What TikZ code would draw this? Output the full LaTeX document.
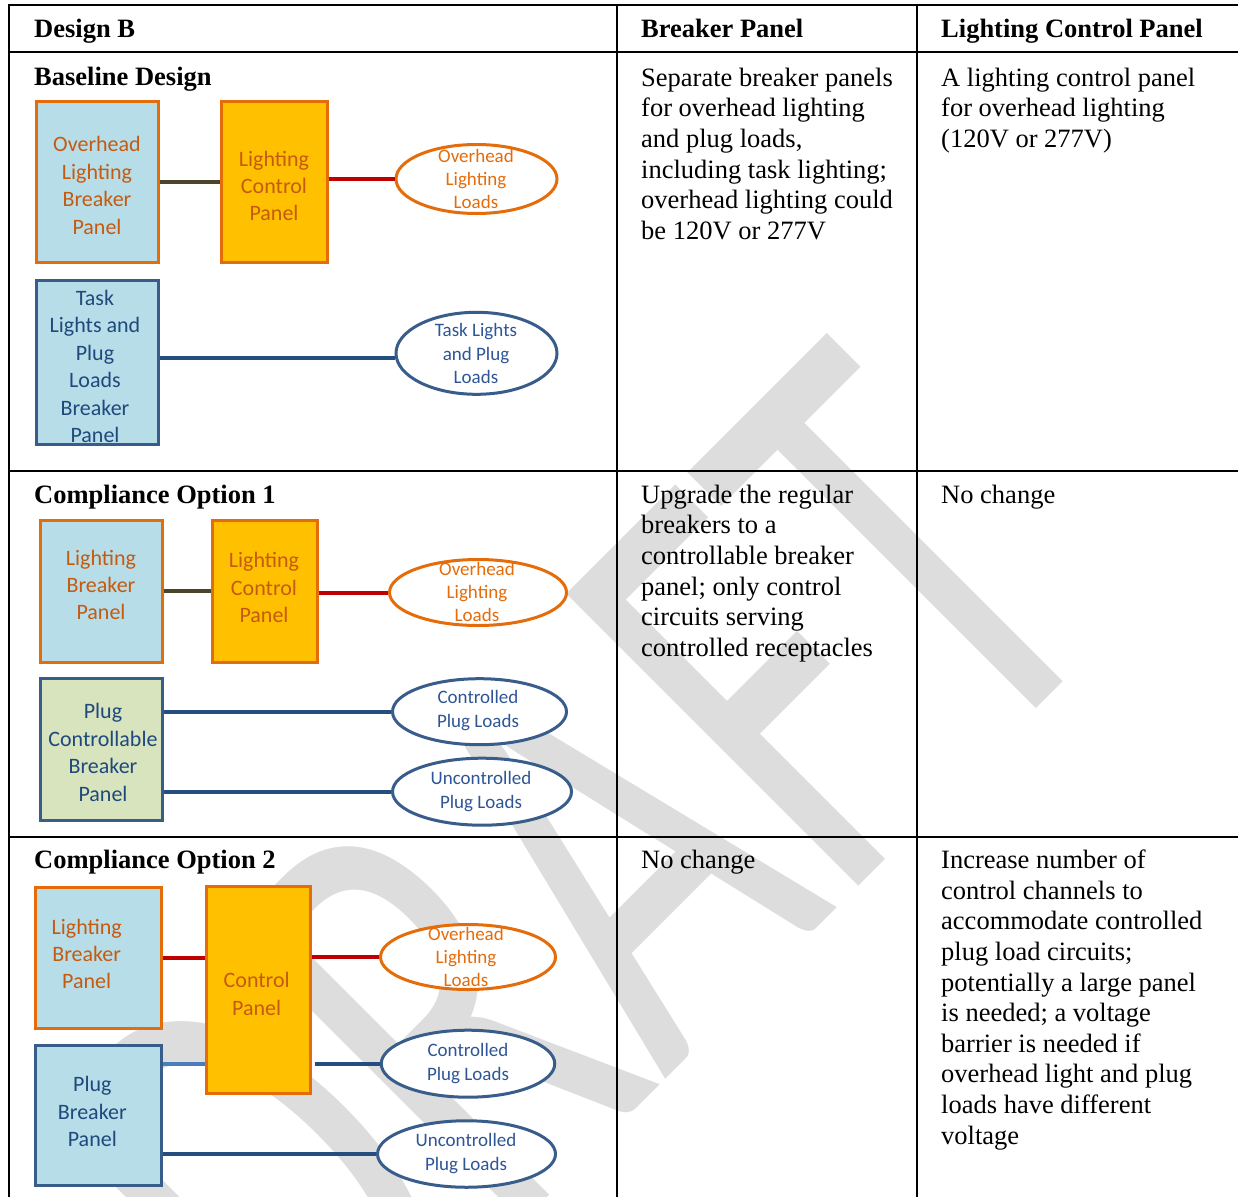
\documentclass[tikz,border=0pt]{standalone}
\usepackage{fontspec}
\setmainfont{Liberation Serif}
\newfontfamily\calibri{Carlito}
\usetikzlibrary{shapes.geometric}

\definecolor{skyfill}{HTML}{B7DEE8}
\definecolor{leaffill}{HTML}{D7E4BD}
\definecolor{goldfill}{HTML}{FFC000}
\definecolor{orline}{HTML}{E46C0A}
\definecolor{blline}{HTML}{385D8A}
\definecolor{ortext}{HTML}{C55A11}
\definecolor{loadorange}{HTML}{E46C0A}
\definecolor{bltext}{HTML}{1F497D}
\definecolor{loadblue}{HTML}{2F5597}
\definecolor{wirered}{HTML}{C00000}
\definecolor{wireolive}{HTML}{4A452A}
\definecolor{wireblue}{HTML}{254E80}
\definecolor{wirelight}{HTML}{4A7EBB}
\definecolor{wmgray}{RGB}{221,221,221}

\tikzset{
  wm/.style={font=\calibri\fontsize{644}{700}\selectfont, text=wmgray, rotate=45, inner sep=0pt},
  tabrule/.style={line width=2pt, black},
  cell/.style={font=\fontsize{26.5}{30.6}\selectfont, align=left, anchor=north west, inner sep=0pt},
  head/.style={cell, font=\bfseries\fontsize{26.5}{30.6}\selectfont},
  panel/.style={draw, line width=3pt, inner sep=0pt},
  orpanel/.style={panel, draw=orline},
  blpanel/.style={panel, draw=blline},
  load/.style={ellipse, draw, line width=3pt, fill=white, inner sep=0pt},
  orload/.style={load, draw=orline},
  blload/.style={load, draw=blline},
  boxtxt/.style={font=\calibri\fontsize{22}{27.4}\selectfont, align=center, inner sep=0pt},
  loadtxt/.style={font=\calibri\fontsize{19}{23.4}\selectfont, align=center, inner sep=0pt},
  wire/.style={line width=4pt},
}

\begin{document}
\begin{tikzpicture}[x=1pt,y=-1pt]
\useasboundingbox (0,0) rectangle (1238,1196);
\fill[white] (0,0) rectangle (1238,1196);

% watermark
\node[wm] (wmark) at (574,879) {\scalebox{0.66}[1]{DRAFT}};

% table rules
\draw[tabrule] (9,5) -- (1240,5);
\draw[tabrule] (9,52) -- (1240,52);
\draw[tabrule] (9,470.5) -- (1240,470.5);
\draw[tabrule] (9,836.5) -- (1240,836.5);
\draw[tabrule] (9,4) -- (9,1198);
\draw[tabrule] (617,4) -- (617,1198);
\draw[tabrule] (917,4) -- (917,1198);

% header row
\node[head] (h1) at (34,16.2) {\strut Design B};
\node[head] (h2) at (641,16.2) {\strut Breaker Panel};
\node[head] (h3) at (941,16.2) {\strut Lighting Control Panel};

% row texts
\node[head] (r1a) at (34,63.7) {\strut Baseline Design};
\node[cell] (r1b) at (641,64.6) {\strut Separate breaker panels\\for overhead lighting\\and plug loads,\\including task lighting;\\overhead lighting could\\be 120V or 277V};
\node[cell] (r1c) at (941,64.6) {\strut A lighting control panel\\for overhead lighting\\(120V or 277V)};

\node[head] (r2a) at (34,481.6) {\strut Compliance Option 1};
\node[cell] (r2b) at (641,481.6) {\strut Upgrade the regular\\breakers to a\\controllable breaker\\panel; only control\\circuits serving\\controlled receptacles};
\node[cell] (r2c) at (941,481.6) {\strut No change};

\node[head] (r3a) at (34,847.2) {\strut Compliance Option 2};
\node[cell] (r3b) at (641,847) {\strut No change};
\node[cell] (r3c) at (941,847) {\strut Increase number of\\control channels to\\accommodate controlled\\plug load circuits;\\potentially a large panel\\is needed; a voltage\\barrier is needed if\\overhead light and plug\\loads have different\\voltage};

% ---- baseline design ----
\node[orpanel, fill=skyfill, minimum width=122pt, minimum height=160pt] (A) at (97,182) {};
\node[orpanel, fill=goldfill, minimum width=106pt, minimum height=160pt] (B) at (274,182) {};
\node[blpanel, fill=skyfill, minimum width=122pt, minimum height=164pt] (C) at (97,362.8) {};
\node[orload, minimum width=161pt, minimum height=69pt] (e1) at (476.5,179) {};
\node[blload, minimum width=161pt, minimum height=82pt] (e2) at (476.5,353.3) {};
\coordinate (e2in) at ([yshift=-4.7pt]e2.west);

\draw[wire, wireolive] (A.east) -- (B.west);
\draw[wire, wirered] (B.east |- e1.west) -- (e1.west);
\draw[wire, wireblue] (C.east |- e2in) -- (e2in);

\node[boxtxt, text=ortext] (tA) at (97,185.5) {Overhead\\Lighting\\Breaker\\Panel};
\node[boxtxt, text=ortext] (tB) at (274,186) {Lighting\\Control\\Panel};
\node[boxtxt, text=bltext] (tC) at (95,366.5) {Task\\Lights and\\Plug\\Loads\\Breaker\\Panel};
\node[loadtxt, text=loadorange] (t1) at (476,179) {Overhead\\Lighting\\Loads};
\node[loadtxt, text=loadblue] (t2) at (476,353.7) {Task Lights\\and Plug\\Loads};

% ---- compliance option 1 ----
\node[orpanel, fill=skyfill, minimum width=122pt, minimum height=142pt] (D) at (101,591) {};
\node[orpanel, fill=goldfill, minimum width=105pt, minimum height=142pt] (E) at (264.5,591) {};
\node[blpanel, fill=leaffill, minimum width=122pt, minimum height=142pt] (F) at (101,749.5) {};
\node[orload, minimum width=177pt, minimum height=66pt] (e3) at (478,592.5) {};
\node[blload, minimum width=174pt, minimum height=66pt] (e4) at (479.5,711.7) {};
\node[blload, minimum width=179pt, minimum height=67pt] (e5) at (482,791.7) {};

\draw[wire, wireolive] (D.east) -- (E.west);
\draw[wire, wirered] (E.east |- e3.west) -- (e3.west);
\draw[wire, wireblue] (F.east |- e4.west) -- (e4.west);
\draw[wire, wireblue] (F.east |- e5.west) -- (e5.west);

\node[boxtxt, text=ortext] (tD) at (101,585) {Lighting\\Breaker\\Panel};
\node[boxtxt, text=ortext] (tE) at (264,587.7) {Lighting\\Control\\Panel};
\node[boxtxt, text=bltext] (tF) at (103,752.5) {Plug\\Controllable\\Breaker\\Panel};
\node[loadtxt, text=loadorange] (t3) at (477,592) {Overhead\\Lighting\\Loads};
\node[loadtxt, text=loadblue] (t4) at (478,710.5) {Controlled\\Plug Loads};
\node[loadtxt, text=loadblue] (t5) at (481,791.5) {Uncontrolled\\Plug Loads};

% ---- compliance option 2 ----
\node[orpanel, fill=skyfill, minimum width=126pt, minimum height=141pt] (G) at (98,957.5) {};
\node[blpanel, fill=skyfill, minimum width=126pt, minimum height=140pt] (I) at (98,1115) {};
\node[orpanel, fill=goldfill, minimum width=104pt, minimum height=207pt] (H) at (258,989.5) {};
\node[orload, minimum width=175pt, minimum height=65pt] (e6) at (468,957) {};
\node[blload, minimum width=173.5pt, minimum height=67pt] (e7) at (468,1063.7) {};
\node[blload, minimum width=178pt, minimum height=66.5pt] (e8) at (466.5,1154) {};
\coordinate (h2out) at ([xshift=3pt]H.east);

\draw[wire, wirelight] (I.east |- e7.west) -- (e7.west -| H.west);
\draw[wire, wirered] (G.east) -- (G.east -| H.west);
\draw[wire, wirered] (H.east |- e6.west) -- (e6.west);
\draw[wire, wireblue] (h2out |- e7.west) -- (e7.west);
\draw[wire, wireblue] (I.east |- e8.west) -- (e8.west);

\node[boxtxt, text=ortext] (tG) at (86.7,954) {Lighting\\Breaker\\Panel};
\node[boxtxt, text=ortext] (tH) at (256.7,994) {Control\\Panel};
\node[boxtxt, text=bltext] (tI) at (92.3,1111.7) {Plug\\Breaker\\Panel};
\node[loadtxt, text=loadorange] (t6) at (466,957) {Overhead\\Lighting\\Loads};
\node[loadtxt, text=loadblue] (t7) at (468,1063.5) {Controlled\\Plug Loads};
\node[loadtxt, text=loadblue] (t8) at (466,1153.5) {Uncontrolled\\Plug Loads};
\end{tikzpicture}
\end{document}
